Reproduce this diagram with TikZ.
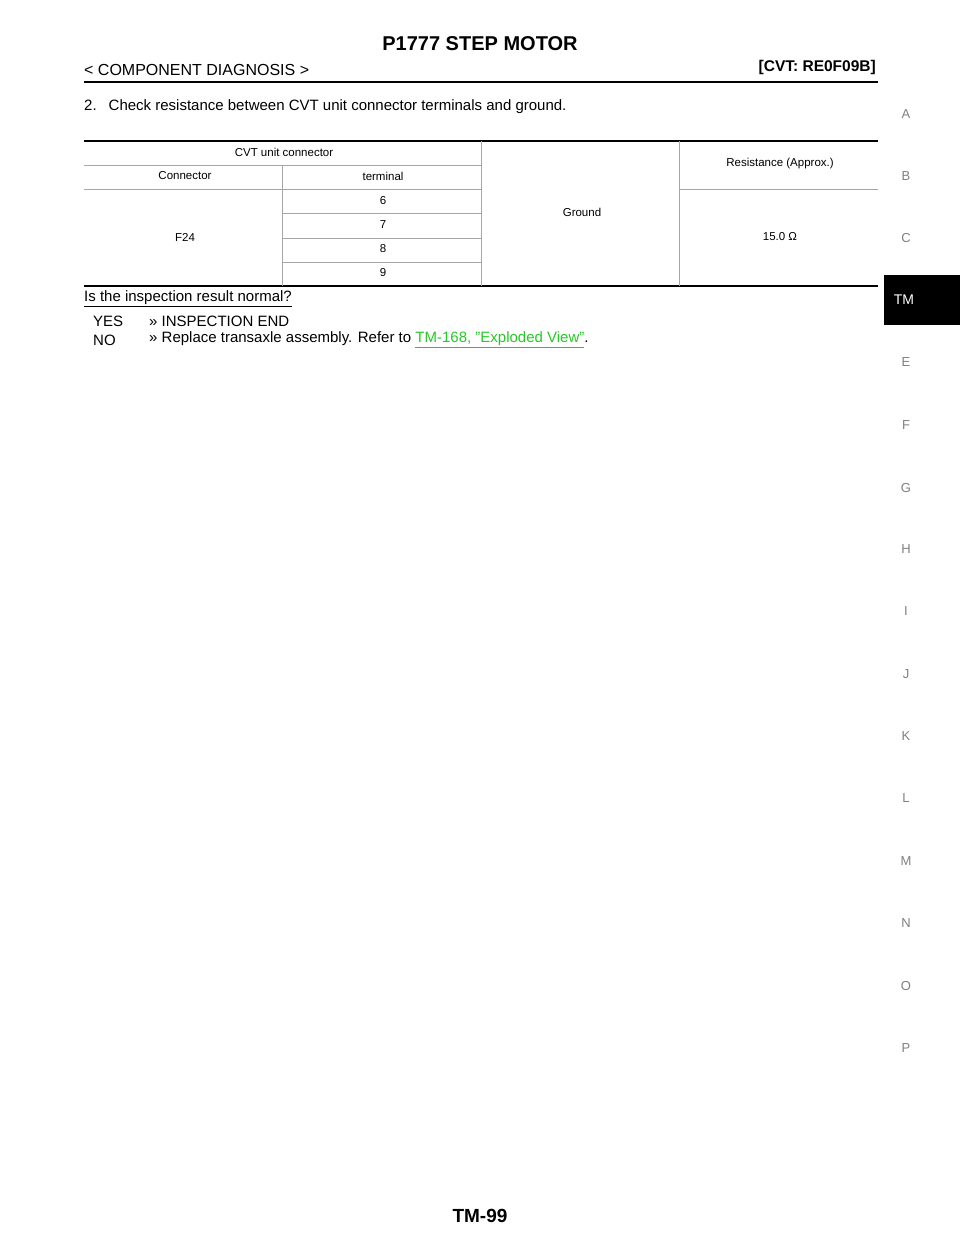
\documentclass[tikz,border=0pt]{standalone}
\usepackage{fontspec}
\setmainfont{Liberation Sans}
\begin{document}
\begin{tikzpicture}[x=1pt,y=-1pt,
  tt/.style={font=\fontsize{11.5}{13}\selectfont,inner sep=0},
  bt/.style={font=\fontsize{15}{17}\selectfont,inner sep=0,anchor=west},
  side/.style={font=\fontsize{13}{15}\selectfont,text=gray,inner sep=0},
  grid/.style={gray!70,line width=0.6pt},
  thick rule/.style={line width=1.8pt}]
\useasboundingbox[fill=white] (0,0) rectangle (960,1242);
\node[font=\bfseries\fontsize{20}{22}\selectfont,inner sep=0] (title) at (480,44) {P1777 STEP MOTOR};
\node[font=\fontsize{16}{18}\selectfont,inner sep=0,anchor=west] (sub) at (84,70) {< COMPONENT DIAGNOSIS >};
\node[font=\bfseries\fontsize{15.5}{18}\selectfont,inner sep=0,anchor=east] (cvt) at (876,67) {[CVT: RE0F09B]};
\draw[line width=2.2pt] (84,82) -- (878,82);
\node[bt] (step) at (84,107) {2.\hspace{12pt}Check resistance between CVT unit connector terminals and ground.};
% table
\draw[thick rule] (84,141) -- (878,141);
\draw[thick rule] (84,286) -- (878,286);
\draw[grid] (84,165) -- (481,165);
\draw[grid] (84,189) -- (481,189);
\draw[grid] (679,189) -- (878,189);
\draw[grid] (282,213) -- (481,213);
\draw[grid] (282,238) -- (481,238);
\draw[grid] (282,262) -- (481,262);
\draw[grid] (282,165) -- (282,286);
\draw[grid] (481,141) -- (481,286);
\draw[grid] (679,141) -- (679,286);
\node[tt] (h1) at (284,152) {CVT unit connector};
\node[tt] (h2) at (185,176) {Connector};
\node[tt] (h3) at (383,176) {terminal};
\node[tt] (h4) at (780,164) {Resistance (Approx.)};
\node[tt] (gnd) at (582,212) {Ground};
\node[tt] (f24) at (185,237) {F24};
\node[tt] (t6) at (383,201) {6};
\node[tt] (t7) at (383,225) {7};
\node[tt] (t8) at (383,249) {8};
\node[tt] (t9) at (383,273) {9};
\node[tt] (res) at (780,237) {15.0 Ω};
\node[bt] (q) at (84,299) {\underline{Is the inspection result normal?}};
\node[bt] (yes) at (93,321) {YES};
\node[bt] (yes2) at (149,321) {>> INSPECTION END};
\node[bt] (no) at (93,340) {NO};
\node[bt] (no2) at (149,340) {>> Replace transaxle assembly. Refer to \textcolor[RGB]{40,200,40}{\underline{TM-168, "Exploded View"}}.};
% side tabs
\fill[black] (884,275) rectangle (960,325);
\node[font=\fontsize{14}{16}\selectfont,text=white,inner sep=0] (tm) at (904,300) {TM};
\foreach \l/\y in {A/114,B/176,C/238,E/362,F/425,G/488,H/549,I/611,J/674,K/736,L/798,M/861,N/923,O/986,P/1048}
  \node[side] (s\l) at (906,\y) {\l};
\node[font=\bfseries\fontsize{19}{21}\selectfont,inner sep=0] (pg) at (480,1216) {TM-99};
\end{tikzpicture}
\end{document}
